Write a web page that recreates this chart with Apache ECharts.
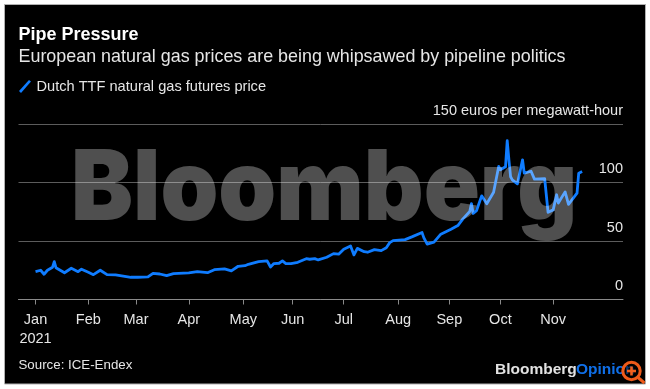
<!DOCTYPE html>
<html>
<head>
<meta charset="utf-8">
<style>html,body{margin:0;padding:0;background:#fff}#c{width:650px;height:389px}</style>
<script src="https://cdn.jsdelivr.net/npm/echarts@6/dist/echarts.min.js"></script>
</head>
<body>
<div id="c"></div>
<script>
var seriesName = 'Dutch TTF natural gas futures price';
var titleText = 'Pipe Pressure';
var subtitleText = 'European natural gas prices are being whipsawed by pipeline politics';
var sourceText = 'Source: ICE-Endex';
var yUnit = ' euros per megawatt-hour';
var yTicks = [0, 50, 100, 150];
var tickDates = ['2021-01-01','2021-02-01','2021-03-01','2021-04-01','2021-05-03','2021-06-01','2021-07-01','2021-08-02','2021-09-01','2021-10-01','2021-11-01'];
var tickLabels = ['Jan\n2021','Feb','Mar','Apr','May','Jun','Jul','Aug','Sep','Oct','Nov'];
var dates = ['2021-01-01','2021-01-04','2021-01-06','2021-01-08','2021-01-11','2021-01-12','2021-01-13','2021-01-18','2021-01-22','2021-01-26','2021-01-28',
'2021-02-01','2021-02-04','2021-02-08','2021-02-12','2021-02-17','2021-02-26',
'2021-03-02','2021-03-08','2021-03-11','2021-03-15','2021-03-19','2021-03-23',
'2021-04-01','2021-04-06','2021-04-12','2021-04-16','2021-04-22','2021-04-26','2021-04-30',
'2021-05-04','2021-05-06','2021-05-07','2021-05-12','2021-05-17','2021-05-19','2021-05-21','2021-05-24','2021-05-26','2021-05-28','2021-05-31',
'2021-06-04','2021-06-09','2021-06-11','2021-06-14','2021-06-16','2021-06-21','2021-06-25','2021-06-28',
'2021-07-01','2021-07-05','2021-07-07','2021-07-09','2021-07-13','2021-07-15','2021-07-19','2021-07-23','2021-07-26','2021-07-28','2021-07-30',
'2021-08-06','2021-08-10','2021-08-11','2021-08-16','2021-08-17','2021-08-19','2021-08-23','2021-08-27',
'2021-09-02','2021-09-06','2021-09-09','2021-09-13','2021-09-14','2021-09-15','2021-09-17','2021-09-20','2021-09-23','2021-09-27','2021-09-30',
'2021-10-01','2021-10-04','2021-10-05','2021-10-06','2021-10-07','2021-10-08','2021-10-11','2021-10-13','2021-10-14','2021-10-15','2021-10-19','2021-10-21','2021-10-27','2021-10-29',
'2021-11-01','2021-11-03','2021-11-04','2021-11-08','2021-11-10','2021-11-15','2021-11-16','2021-11-18'];
var prices = [23.8,25,21.6,25,27.6,32.4,27.2,22.9,26.7,23.8,25.9,
23.3,21.2,25,21.2,21,19,
19,19.3,22.4,21.8,20.4,22.1,
22.7,23.8,22.9,25.5,26.1,24.4,28.4,
28.9,30.1,29.5,32.4,33,27.8,30.7,31,33,30.7,30.7,
31.8,34.9,34.4,34.9,33.8,36.1,39.2,38.7,
43,45.8,38.1,43.7,40.9,40.4,42.6,41.8,44.3,48.6,50.3,
51.2,53.5,52.4,57.2,52.9,47.3,49,55.8,
60.1,63.2,68.9,75.2,82,73.6,76,88.6,81.8,91.6,113.7,
110.9,113.4,135.7,119.4,104.9,102.3,98.9,112.6,119.4,108,109.6,102.9,103.2,74.5,
76.6,89.5,82.4,92,81.3,90.9,108,109.4];

var FONT = '"Liberation Sans", Arial, sans-serif';
var BLUE = '#0f7cff';
var TXT = '#e6e6e6';
function ms(d){return Date.UTC(+d.slice(0,4),+d.slice(5,7)-1,+d.slice(8,10));}
var tickMs = tickDates.map(ms);
var chart = echarts.init(document.getElementById('c'), null, {renderer:'canvas'});
chart.setOption({
  animation:false,
  backgroundColor:'#fff',
  textStyle:{fontFamily:FONT},
  title:[
    {text:titleText,left:18.5,top:26,padding:0,textStyle:{color:'#fff',fontSize:18,fontWeight:'bold',fontFamily:FONT}},
    {text:subtitleText,left:18.5,top:48,padding:0,textStyle:{color:TXT,fontSize:17.9,fontWeight:'normal',fontFamily:FONT}}
  ],
  legend:{left:19,top:79,padding:0,itemGap:5,itemWidth:13,itemHeight:13,
    icon:'path://M0 11 L10 0 L12 1.5 L2 13 Z',
    data:[seriesName],
    textStyle:{color:TXT,fontSize:14.6,fontFamily:FONT,padding:[1,0,0,0]}},
  grid:{left:18.5,right:27,top:124,bottom:89.5,containLabel:false},
  xAxis:{type:'value',min:ms('2020-12-22'),max:ms('2021-12-12'),
    axisLine:{show:true,onZero:false,lineStyle:{color:'#8a8a8a',width:1}},
    axisTick:{show:true,length:5,customValues:tickMs,lineStyle:{color:'#8a8a8a',width:1}},
    splitLine:{show:false},
    axisLabel:{show:true,color:TXT,fontSize:14.5,fontFamily:FONT,margin:11,lineHeight:19,align:'center',hideOverlap:false,
      customValues:tickMs,
      formatter:function(v){var i=tickMs.indexOf(v);return i>=0?tickLabels[i]:'';}}
  },
  yAxis:{type:'value',position:'right',min:yTicks[0],max:yTicks[3],interval:50,
    axisLine:{show:false},axisTick:{show:false},
    splitLine:{show:true,lineStyle:{color:'#5c5c5c',width:1}},
    axisLabel:{inside:true,margin:0,color:TXT,fontSize:14.5,fontFamily:FONT,align:'right',verticalAlign:'bottom',padding:[0,0,6,0],
      formatter:function(v){return v===yTicks[3]?v+yUnit:String(v);}}
  },
  series:[{name:seriesName,type:'line',showSymbol:false,symbol:'none',smooth:false,z:5,
    lineStyle:{color:BLUE,width:2.8,join:'round'},itemStyle:{color:BLUE},
    data:dates.map(function(d,i){return [ms(d),prices[i]];})}],
  graphic:[
    {type:'rect',z:-10,silent:true,shape:{x:4.5,y:4.5,width:641,height:379.5},style:{fill:'#000',stroke:'#b0b0b0',lineWidth:1}},
    {type:'text',z:50,silent:true,x:71,y:142,scaleX:0.956,style:{text:'Bloomberg',fill:'rgba(255,255,255,0.31)',font:'900 97px Inter'}},
    {type:'text',silent:true,x:18.5,y:365,style:{text:sourceText,fill:TXT,font:'13.3px "Liberation Sans"',verticalAlign:'middle'}},
    {type:'text',silent:true,x:495,y:370,style:{text:'Bloomberg',fill:'#e2e2e2',font:'bold 15.5px "Liberation Sans"',verticalAlign:'middle'}},
    {type:'text',silent:true,x:576,y:370,style:{text:'Opinion',fill:'#0f6fe8',font:'bold 15.5px "Liberation Sans"',verticalAlign:'middle'}},
    {type:'circle',silent:true,z:60,shape:{cx:631.5,cy:371,r:8.7},style:{fill:'rgba(0,0,0,0.55)',stroke:'#ee5a1a',lineWidth:3}},
    {type:'line',silent:true,z:60,shape:{x1:638,y1:377.5,x2:644.5,y2:383},style:{stroke:'#ee5a1a',lineWidth:3}},
    {type:'line',silent:true,z:60,shape:{x1:627,y1:371,x2:636,y2:371},style:{stroke:'#f0601e',lineWidth:2.6}},
    {type:'line',silent:true,z:60,shape:{x1:631.5,y1:366.5,x2:631.5,y2:375.5},style:{stroke:'#f0601e',lineWidth:2.6}}
  ]
});
</script>
</body>
</html>
